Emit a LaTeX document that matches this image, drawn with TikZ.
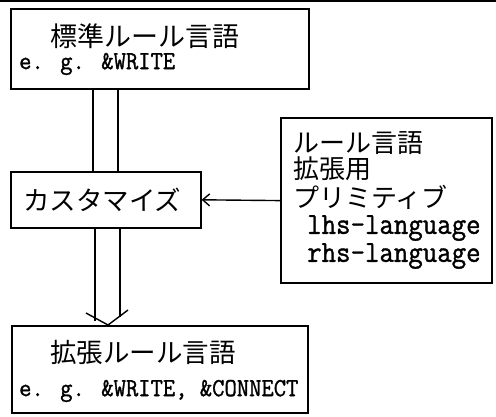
\documentclass[tikz,border=0pt]{standalone}
\usepackage{fontspec}
\newfontfamily\jp{Noto Sans CJK JP}
\newfontfamily\mono[FakeStretch=0.92,FakeBold=1.2]{Latin Modern Mono}
\usetikzlibrary{arrows.meta}
\begin{document}
\begin{tikzpicture}[x=1pt,y=-1pt,
  boxstyle/.style={draw,line width=1.6pt,inner sep=0pt,anchor=north west},
  jtext/.style={inner sep=0pt,anchor=west,font=\jp\fontsize{27}{30}\selectfont},
  mtext/.style={inner sep=0pt,anchor=west,font=\mono\fontsize{26}{28}\selectfont},
  mtextb/.style={inner sep=0pt,anchor=west,font=\mono\fontsize{30.5}{32}\selectfont},
  conn/.style={line width=1.4pt}]
\useasboundingbox (0,0) rectangle (496,417);
% top rule
\coordinate (tl) at (0,1.5);
\coordinate (tr) at (496,1.5);
\draw[line width=2pt] (tl) -- (tr);
% boxes
\node[boxstyle,minimum width=298pt,minimum height=80pt] (tbox) at (10,8) {};
\node[boxstyle,minimum width=190pt,minimum height=56pt] (cbox) at (10,171) {};
\node[boxstyle,line width=2.2pt,minimum width=211pt,minimum height=165pt] (rbox) at (280,117) {};
\node[boxstyle,minimum width=296pt,minimum height=87pt] (bbox) at (11,325) {};
% texts
\node[jtext] (t1) at (50,36) {標準ルール言語};
\node[mtext] (t1b) at (19,64) {e. g. \&WRITE};
\node[jtext,font=\jp\fontsize{26.5}{30}\selectfont] (c1) at (23,200) {カスタマイズ};
\node[jtext,font=\jp\fontsize{26}{30}\selectfont] (r1) at (293,143) {ルール言語};
\node[jtext,font=\jp\fontsize{26}{30}\selectfont] (r2) at (293,169) {拡張用};
\node[jtext,font=\jp\fontsize{26}{30}\selectfont] (r3) at (293,197) {プリミティブ};
\node[mtextb] (r4) at (307,228) {lhs-language};
\node[mtextb] (r5) at (307,256) {rhs-language};
\node[jtext,font=\jp\fontsize{26.5}{30}\selectfont] (b1) at (50,352) {拡張ルール言語};
\node[mtext] (b1b) at (19,391) {e. g. \&WRITE, \&CONNECT};
% upper double shaft
\draw[conn] ([xshift=83]tbox.south west) -- ([xshift=83]cbox.north west);
\draw[conn] ([xshift=108]tbox.south west) -- ([xshift=108]cbox.north west);
% lower double arrow
\coordinate (tip) at ([xshift=97]bbox.north west);
\draw[conn] ([xshift=85]cbox.south west) -- ([shift={(-13,-4)}]tip);
\draw[conn] ([xshift=110]cbox.south west) -- ([shift={(12,-8)}]tip);
\draw[conn] ([shift={(-22,-12)}]tip) -- (tip) -- ([shift={(20,-15)}]tip);
% arrow from right box
\draw[conn,-{Straight Barb[length=7pt,width=12pt]}] (rbox.west) -- (cbox.east);
\end{tikzpicture}
\end{document}
